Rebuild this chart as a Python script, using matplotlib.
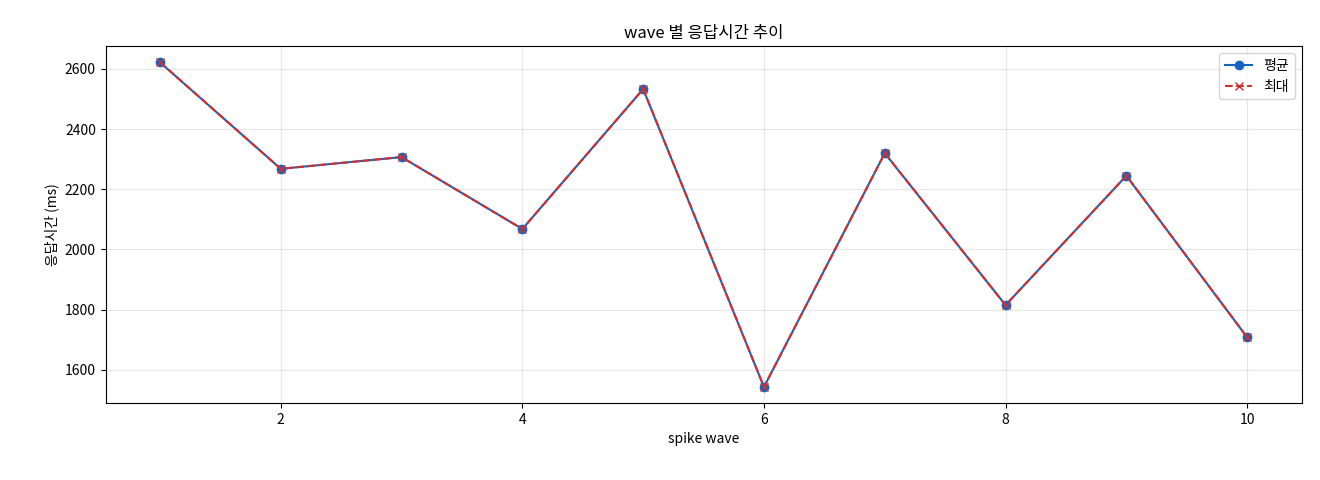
import matplotlib
matplotlib.use('Agg')
import matplotlib.pyplot as plt

plt.rcParams['font.family'] = ['Noto Sans CJK KR', 'DejaVu Sans']

waves = [1, 2, 3, 4, 5, 6, 7, 8, 9, 10]
avg_ms = [2622, 2268, 2307, 2068, 2533, 1543, 2320, 1815, 2245, 1708]
max_ms = [2622, 2268, 2307, 2068, 2533, 1543, 2320, 1815, 2245, 1708]

fig, ax = plt.subplots(figsize=(13.2, 4.8), dpi=100)
ax.plot(waves, avg_ms, marker='o', color='#1565c0', label='평균')
ax.plot(waves, max_ms, marker='x', linestyle='--', color='#d32f2f', label='최대')
ax.set_title('wave 별 응답시간 추이')
ax.set_xlabel('spike wave')
ax.set_ylabel('응답시간 (ms)')
ax.grid(True, alpha=0.3)
ax.legend(loc='upper right')
fig.subplots_adjust(left=0.08, right=0.986, top=0.904, bottom=0.16)
fig.savefig('out.png')
